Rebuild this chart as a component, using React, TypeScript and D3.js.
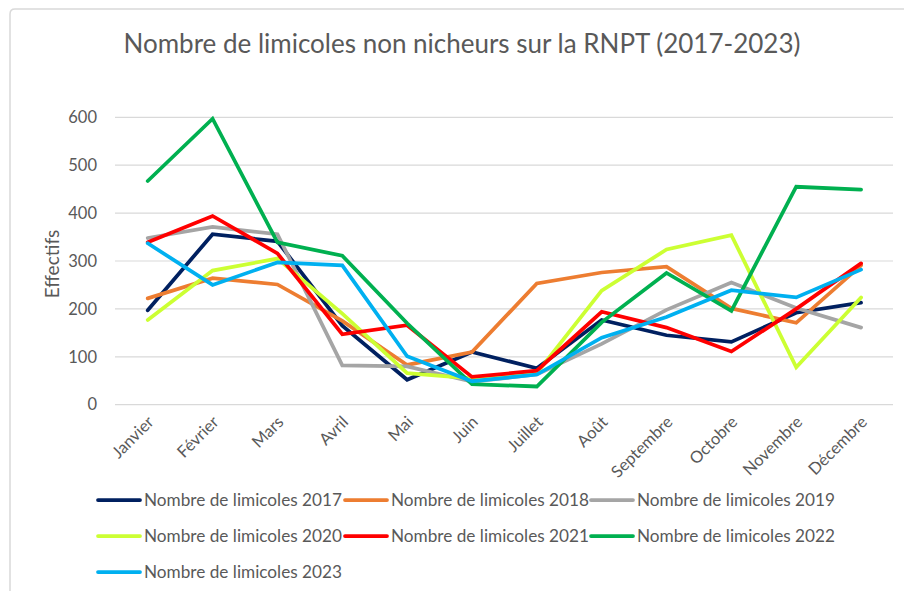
import React from "react";
import * as d3 from "d3";

const months = ["Janvier", "Février", "Mars", "Avril", "Mai", "Juin", "Juillet", "Août", "Septembre", "Octobre", "Novembre", "Décembre"];
const yTicks = [0, 100, 200, 300, 400, 500, 600];

const seriesNames = [
  "Nombre de limicoles 2017",
  "Nombre de limicoles 2018",
  "Nombre de limicoles 2019",
  "Nombre de limicoles 2020",
  "Nombre de limicoles 2021",
  "Nombre de limicoles 2022",
  "Nombre de limicoles 2023",
];
const seriesColors = ["#002060", "#ED7D31", "#A5A5A5", "#CCFF33", "#FF0000", "#00B050", "#00B0F0"];

const v2017 = [197, 356, 341, 165, 52, 110, 76, 177, 145, 131, 192, 213];
const v2018 = [222, 264, 251, 175, 83, 110, 253, 276, 288, 201, 171, 291];
const v2019 = [348, 371, 356, 82, 80, 48, 63, 127, 198, 255, 202, 161];
const v2020 = [177, 280, 305, 190, 66, 55, 66, 238, 324, 354, 78, 224];
const v2021 = [339, 394, 316, 147, 166, 58, 71, 194, 161, 111, 200, 295];
const v2022 = [467, 597, 339, 311, 170, 43, 38, 172, 275, 196, 455, 449];
const v2023 = [337, 250, 297, 291, 101, 49, 63, 140, 183, 239, 224, 282];
const seriesValues = [v2017, v2018, v2019, v2020, v2021, v2022, v2023];

const FONT = "Lato, 'Open Sans', sans-serif";
const TXT = "#595959";

export default function App() {
  const x = d3.scaleBand<string>().domain(months).range([115.3, 893.5]).padding(0);
  const cx = (m: string) => (x(m) as number) + x.bandwidth() / 2;
  const y = d3.scaleLinear().domain([0, 600]).range([404.7, 117.3]);
  const line = d3
    .line<number>()
    .x((_, i) => cx(months[i]))
    .y((d) => y(d));

  const legendCols = [98, 345, 591];
  const legendRows = [500, 536, 572];

  return (
    <svg width={904} height={591} style={{ position: "absolute", left: 0, top: 0, background: "#fff" }}>
      <rect x={0} y={0} width={904} height={591} fill="#fff" />
      <path d="M10,591 L10,14 Q10,9 15,9 L904,9" fill="none" stroke="#d9d9d9" strokeWidth={1.5} />
      <text x={462} y={53} textAnchor="middle" fontFamily={FONT} fontSize={26} fill={TXT}>
        Nombre de limicoles non nicheurs sur la RNPT (2017-2023)
      </text>
      {yTicks.map((t) => (
        <g key={t}>
          <line x1={115} x2={893} y1={y(t)} y2={y(t)} stroke="#d9d9d9" strokeWidth={1.2} />
          <text x={97} y={y(t)} dy="0.35em" textAnchor="end" fontFamily={FONT} fontSize={16.5} fill={TXT}>
            {t}
          </text>
        </g>
      ))}
      <text
        transform={`translate(52,264) rotate(-90)`}
        textAnchor="middle"
        dy="0.35em"
        fontFamily={FONT}
        fontSize={19}
        fill={TXT}
      >
        Effectifs
      </text>
      {months.map((m) => (
        <text
          key={m}
          transform={`translate(${cx(m) + 3},419) rotate(-45)`}
          textAnchor="end"
          dy="0.35em"
          fontFamily={FONT}
          fontSize={16.5}
          fill={TXT}
        >
          {m}
        </text>
      ))}
      {seriesValues.map((vals, i) => (
        <path
          key={i}
          d={line(vals) as string}
          fill="none"
          stroke={seriesColors[i]}
          strokeWidth={3.75}
          strokeLinejoin="miter"
          strokeLinecap="round"
        />
      ))}
      {seriesNames.map((n, i) => {
        const lx = legendCols[i % 3];
        const ly = legendRows[Math.floor(i / 3)];
        return (
          <g key={n}>
            <line x1={lx} x2={lx + 42} y1={ly} y2={ly} stroke={seriesColors[i]} strokeWidth={3.75} strokeLinecap="round" />
            <text x={lx + 46} y={ly} dy="0.35em" fontFamily={FONT} fontSize={17.2} fill={TXT}>
              {n}
            </text>
          </g>
        );
      })}
    </svg>
  );
}
